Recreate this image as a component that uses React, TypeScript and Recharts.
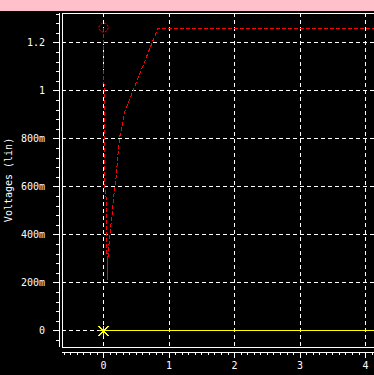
import React from 'react';
import { LineChart, Line, XAxis, YAxis, CartesianGrid, ReferenceArea } from 'recharts';

// trace values (time, volts)
const redX = [0, 0.003, 0.012, 0.02, 0.04, 0.048, 0.058, 0.06, 0.065, 0.075, 0.1, 0.135, 0.165, 0.19, 0.24, 0.33, 0.83, 4.4];
const redY = [1.264, 1.13, 0.86, 0.6, 0.55, 0.34, 0.3, 0.212, 0.3, 0.34, 0.41, 0.5, 0.59, 0.64, 0.8, 0.92, 1.262, 1.262];
const yellowX = [0, 4.4];
const yellowY = [0, 0];

const xMajor = [0, 1, 2, 3, 4];
const xLabels = ['0', '1', '2', '3', '4'];
const yMajor = [0, 0.2, 0.4, 0.6, 0.8, 1, 1.2];
const yLabels = ['0', '200m', '400m', '600m', '800m', '1', '1.2'];

const X_DOMAIN = [-0.635, 4.433];
const Y_DOMAIN = [-0.0667, 1.325];

// minor tick positions
const xMinor = Array.from({ length: 51 }, (_, i) => Math.round((i - 6) * 10) / 100);
const yMinor = Array.from({ length: 35 }, (_, i) => Math.round((i - 1) * 4) / 100);

const redData = redX.map((x, i) => ({ x, y: redY[i] }));
const yellowData = yellowX.map((x, i) => ({ x, y: yellowY[i] }));

const FONT = '"DejaVu Sans Mono", monospace';
const CRISP = 'crispEdges';

const findMajor = (arr: number[], v: number) => arr.findIndex((m) => Math.abs(m - v) < 1e-6);

const XTick = (props: any) => {
  const { x, y, payload } = props;
  const idx = findMajor(xMajor, payload.value);
  const major = idx >= 0;
  return (
    <g>
      <line x1={x} x2={x} y1={y + 5} y2={y + (major ? 11 : 8)} stroke="#fff" shapeRendering={CRISP} />
      {major && (
        <text x={x} y={y + 18} textAnchor="middle" dominantBaseline="central" fill="#fff" fontFamily={FONT} fontSize={10}>
          {xLabels[idx]}
        </text>
      )}
    </g>
  );
};

const YTick = (props: any) => {
  const { x, y, payload } = props;
  const idx = findMajor(yMajor, payload.value);
  const major = idx >= 0;
  return (
    <g>
      <line x1={x - (major ? 9 : 6)} x2={x - 3} y1={y} y2={y} stroke="#fff" shapeRendering={CRISP} />
      {major && (
        <text x={x - 17} y={y} textAnchor="end" dominantBaseline="central" fill="#fff" fontFamily={FONT} fontSize={10}>
          {yLabels[idx]}
        </text>
      )}
    </g>
  );
};

const YTitle = (props: any) => {
  const vb = props.viewBox || { y: 13, height: 334 };
  const cx = 8.5;
  const cy = vb.y + vb.height / 2;
  return (
    <text
      x={cx}
      y={cy}
      transform={`rotate(-90 ${cx} ${cy})`}
      textAnchor="middle"
      dominantBaseline="central"
      fill="#fff"
      fontFamily={FONT}
      fontSize={10}
    >
      Voltages (lin)
    </text>
  );
};

const StartCircle = (props: any) => {
  const { cx, cy, index } = props;
  if (index !== 0) return <g key={`r-${index}`} />;
  return <circle key={`r-${index}`} cx={cx} cy={cy} r={4.5} fill="none" stroke="#ff0000" strokeDasharray="2 1.5" />;
};

const Asterisk = (props: any) => {
  const { cx, cy, index } = props;
  if (index !== 0) return <g key={`y-${index}`} />;
  const s = 5;
  return (
    <g key={`y-${index}`} stroke="#ffff00" strokeWidth={1} shapeRendering={CRISP}>
      <line x1={cx - s} y1={cy - s} x2={cx + s} y2={cy + s} />
      <line x1={cx - s} y1={cy + s} x2={cx + s} y2={cy - s} />
      <line x1={cx} y1={cy - s} x2={cx} y2={cy + s} />
      <line x1={cx - s} y1={cy} x2={cx + s} y2={cy} />
    </g>
  );
};

export default function App() {
  return (
    <div style={{ position: 'fixed', left: 0, top: 0, width: 374, height: 375, overflow: 'hidden', background: '#000' }}>
      <div style={{ position: 'absolute', left: 0, top: 0, width: 374, height: 11, background: '#ffc0cb' }} />
      <LineChart width={400} height={375} margin={{ top: 13, right: 6, bottom: 0, left: 0 }}>
        <CartesianGrid
          stroke="#fff"
          strokeDasharray="4 3"
          shapeRendering={CRISP}
          verticalValues={xMajor}
          horizontalValues={yMajor}
        />
        <ReferenceArea
          x1={X_DOMAIN[0]}
          x2={X_DOMAIN[1]}
          y1={Y_DOMAIN[0]}
          y2={Y_DOMAIN[1]}
          fill="none"
          stroke="#fff"
          strokeWidth={1}
          shapeRendering={CRISP}
          ifOverflow="visible"
        />
        <XAxis
          type="number"
          dataKey="x"
          domain={X_DOMAIN}
          allowDataOverflow
          ticks={xMinor}
          interval={0}
          height={28}
          tickSize={0}
          tickMargin={0}
          tickLine={false}
          axisLine={{ stroke: '#fff', transform: 'translate(0 5)', shapeRendering: CRISP }}
          tick={<XTick />}
        />
        <YAxis
          type="number"
          dataKey="y"
          domain={Y_DOMAIN}
          allowDataOverflow
          ticks={yMinor}
          interval={0}
          width={62}
          tickSize={0}
          tickMargin={0}
          tickLine={false}
          axisLine={{ stroke: '#fff', transform: 'translate(-3 0)', shapeRendering: CRISP }}
          tick={<YTick />}
          label={<YTitle />}
        />
        <Line
          data={yellowData}
          dataKey="y"
          stroke="#ffff00"
          strokeWidth={1}
          shapeRendering={CRISP}
          dot={<Asterisk />}
          activeDot={false}
          isAnimationActive={false}
          type="linear"
        />
        <Line
          data={redData}
          dataKey="y"
          stroke="#ff0000"
          strokeWidth={1}
          strokeDasharray="4 2"
          shapeRendering={CRISP}
          dot={<StartCircle />}
          activeDot={false}
          isAnimationActive={false}
          type="linear"
        />
      </LineChart>
    </div>
  );
}
